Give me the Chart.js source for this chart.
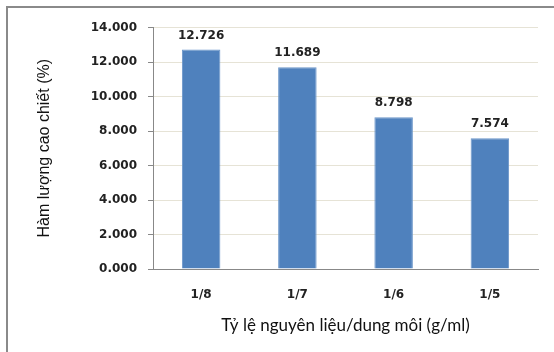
<!DOCTYPE html>
<html>
<head>
<meta charset="utf-8">
<script src="https://cdn.jsdelivr.net/npm/chart.js@4"></script>
<style>
  html, body { margin: 0; padding: 0; background: #fff; overflow: hidden; }
  #wrap { position: relative; width: 554px; height: 352px; }
  #frame { position: absolute; left: 6px; top: 6px; width: 700px; height: 500px; border: 2px solid #8a8a8a; box-sizing: border-box; }
  canvas { position: absolute; left: 0; top: 0; }
</style>
</head>
<body>
<div id="wrap">
  <div id="frame"></div>
  <canvas id="chart" width="554" height="352"></canvas>
</div>
<script>
const ratios = ['1/8', '1/7', '1/6', '1/5'];
const extractYield = [12.726, 11.689, 8.798, 7.574];
const yTicks = [0, 2, 4, 6, 8, 10, 12, 14];

const tickFont = { family: 'DejaVu Sans', size: 12, weight: 'bold' };

// value labels above each bar
const barValues = {
  id: 'barValues',
  afterDatasetsDraw(chart) {
    const ctx = chart.ctx;
    const meta = chart.getDatasetMeta(0);
    ctx.save();
    ctx.font = 'bold 12px "DejaVu Sans"';
    ctx.fillStyle = '#222';
    ctx.textAlign = 'center';
    ctx.textBaseline = 'bottom';
    meta.data.forEach((bar, i) => {
      ctx.fillText(extractYield[i].toFixed(3), bar.x, bar.y - 8);
    });
    ctx.restore();
  }
};

new Chart(document.getElementById('chart').getContext('2d'), {
  type: 'bar',
  data: {
    labels: ratios,
    datasets: [{
      data: extractYield,
      backgroundColor: '#4f81bd',
      borderColor: '#6a95c9',
      borderWidth: 1,
      barPercentage: 0.4,
      categoryPercentage: 1
    }]
  },
  options: {
    responsive: false,
    animation: false,
    layout: { padding: { top: 27.5, right: 16, left: 0, bottom: 0 } },
    plugins: { legend: { display: false }, tooltip: { enabled: false } },
    scales: {
      x: {
        afterFit(scale) { scale.height = 83; },
        grid: { display: false, drawTicks: false },
        border: { color: '#888', width: 1 },
        ticks: { font: tickFont, color: '#222', padding: 19 },
        title: {
          display: true,
          text: 'Tỷ lệ nguyên liệu/dung môi (g/ml)',
          font: { family: 'Lato', size: 17 },
          color: '#111',
          padding: { top: 0, bottom: 16 }
        }
      },
      y: {
        min: 0,
        max: 14,
        afterFit(scale) { scale.width = 153; },
        afterBuildTicks(scale) { scale.ticks = yTicks.map(v => ({ value: v })); },
        grid: { color: '#e6e3d6', tickColor: '#888', tickLength: 5 },
        border: { color: '#888', width: 1 },
        ticks: {
          font: tickFont,
          color: '#222',
          padding: 11,
          callback: v => v.toFixed(3)
        },
        title: {
          display: true,
          text: 'Hàm lượng cao chiết (%)',
          font: { family: 'Liberation Sans', size: 16 },
          color: '#111',
          padding: { top: 35, bottom: 0 }
        }
      }
    }
  },
  plugins: [barValues]
});
</script>
</body>
</html>
